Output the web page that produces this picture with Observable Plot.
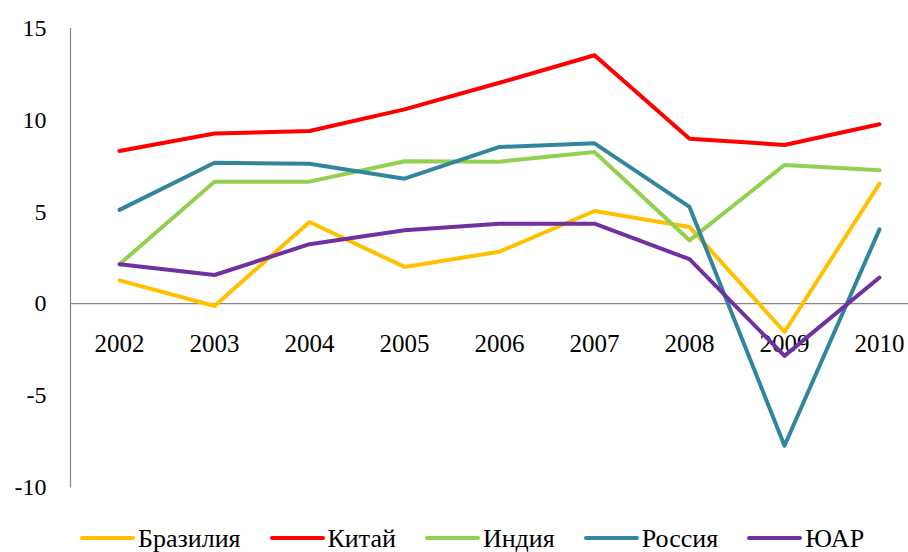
<!DOCTYPE html>
<html>
<head>
<meta charset="utf-8">
<script src="https://cdn.jsdelivr.net/npm/d3@7"></script>
<script src="https://cdn.jsdelivr.net/npm/@observablehq/plot@0.6"></script>
<style>
  html, body { margin: 0; padding: 0; background: #fff; overflow: hidden; }
  body { font-family: "Times New Roman", Times, "Liberation Serif", "DejaVu Serif", "Noto Serif", serif; width: 908px; height: 552px; position: relative; }
  #chart { position: absolute; left: 0; top: 0; }
  #legend { position: absolute; left: 80px; top: 527px; height: 24px; display: flex; align-items: center; font-size: 26px; line-height: 22px; color: #000; white-space: nowrap; }
  .item { display: flex; align-items: center; margin-right: 29px; }
  .sw { display: inline-block; width: 55px; height: 4px; border-radius: 2px; margin-right: 3px; position: relative; top: -1px; }
</style>
</head>
<body>
<div id="chart"></div>
<div id="legend"></div>
<script>
const years = ["2002", "2003", "2004", "2005", "2006", "2007", "2008", "2009", "2010"];
const brazil = [1.27, -0.13, 4.45, 2.0, 2.83, 5.05, 4.18, -1.55, 6.54];
const china  = [8.32, 9.27, 9.41, 10.59, 12.04, 13.54, 8.99, 8.65, 9.78];
const india  = [2.15, 6.65, 6.65, 7.76, 7.74, 8.27, 3.45, 7.56, 7.27];
const russia = [5.11, 7.68, 7.63, 6.81, 8.54, 8.74, 5.27, -7.75, 4.05];
const sar    = [2.15, 1.56, 3.24, 4.0, 4.36, 4.36, 2.42, -2.85, 1.42];
const seriesNames = ["Бразилия", "Китай", "Индия", "Россия", "ЮАР"];
const seriesColors = ["#FFC000", "#FF0000", "#92D050", "#31859C", "#7030A0"];
const yTicks = [-10, -5, 0, 5, 10, 15];

const seriesValues = [brazil, china, india, russia, sar];
const data = [];
seriesNames.forEach((name, i) => {
  years.forEach((yr, j) => data.push({ series: name, year: yr, value: seriesValues[i][j] }));
});

const serif = "'Times New Roman', Times, 'Liberation Serif', 'DejaVu Serif', 'Noto Serif', serif";
const chart = Plot.plot({
  width: 908,
  height: 515,
  marginTop: 28,
  marginBottom: 28.5,
  marginLeft: 70,
  marginRight: 0,
  style: { fontFamily: serif, fontSize: "24px", color: "#000", background: "#fff" },
  x: { type: "point", domain: years, range: [118, 879], padding: 0, axis: null },
  y: { domain: [-10, 15], axis: null },
  color: { domain: seriesNames, range: seriesColors },
  marks: [
    Plot.frame({ anchor: "left", stroke: "#868686", strokeWidth: 1.2 }),
    Plot.ruleY([0], { stroke: "#868686", strokeWidth: 1.2 }),
    Plot.axisY(yTicks, { tickSize: 0, tickPadding: 24, fontSize: 24, label: null, tickFormat: d => String(d), fontFamily: serif }),
    Plot.text(years, { x: d => d, y: () => 0, dy: 40, text: d => d, fontSize: 25, fill: "#000", fontFamily: serif }),
    Plot.line(data, { x: "year", y: "value", z: "series", stroke: "series", strokeWidth: 4, strokeLinejoin: "round", strokeLinecap: "round" })
  ]
});
document.getElementById("chart").appendChild(chart);

const legend = document.getElementById("legend");
seriesNames.forEach((name, i) => {
  const item = document.createElement("span");
  item.className = "item";
  const sw = document.createElement("span");
  sw.className = "sw";
  sw.style.background = seriesColors[i];
  const label = document.createElement("span");
  label.textContent = name;
  item.appendChild(sw);
  item.appendChild(label);
  legend.appendChild(item);
});
</script>
</body>
</html>
